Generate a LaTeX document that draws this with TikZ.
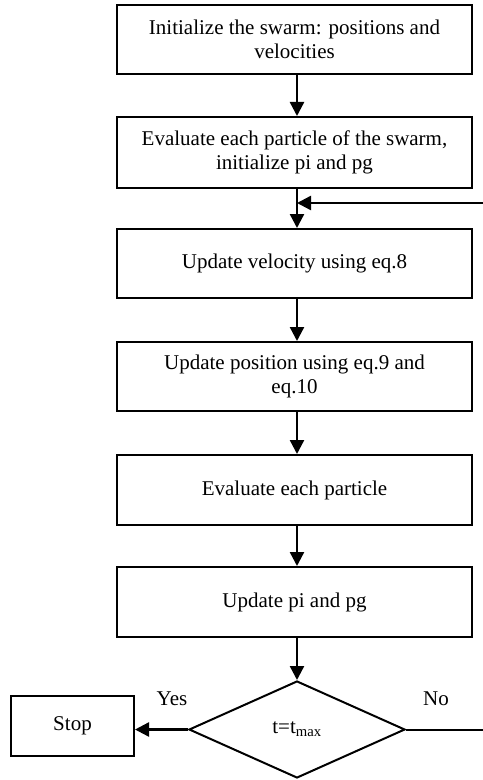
\documentclass[tikz,border=0pt]{standalone}
\usepackage{fontspec}
\setmainfont{Liberation Serif}
\usetikzlibrary{shapes.geometric,arrows.meta}
\begin{document}
\begin{tikzpicture}[x=1bp,y=-1bp,
  every node/.style={font=\fontsize{21bp}{24.5bp}\selectfont, inner sep=0pt},
  procbox/.style={draw, line width=2bp, minimum width=355bp, minimum height=69bp, align=center},
  decbox/.style={draw, diamond, line width=2bp, minimum width=216bp, minimum height=97bp},
  stopbox/.style={draw, line width=2bp, minimum width=123bp, minimum height=60bp},
  arr/.style={line width=2.4bp, -{Triangle[length=14bp,width=14bp]}},
  plainline/.style={line width=2bp}]
\useasboundingbox (0,0) rectangle (483,780);
\node[procbox] (b1) at (294.5,39.5) {Initialize the swarm: positions and\\velocities};
\node[procbox, minimum height=71bp] (b2) at (294.5,152.5) {Evaluate each particle of the swarm,\\initialize pi and pg};
\node[procbox] (b3) at (294.5,263.5) {Update velocity using eq.8};
\node[procbox] (b4) at (294.5,376.5) {Update position using eq.9 and\\eq.10};
\node[procbox, minimum height=70bp] (b5) at (294.5,490) {Evaluate each particle};
\node[procbox, minimum height=70bp] (b6) at (294.5,602) {Update pi and pg};
\node[decbox] (d) at (297,729.5) {t=t\textsubscript{max}};
\node[stopbox] (stop) at (72.5,726) {Stop};
\node (yes) at (172,699) {Yes};
\node (no) at (436,699) {No};
\coordinate (ax) at (297,0);
\coordinate (fbR) at (483,203);
\coordinate (fbL) at (297,203);
\coordinate (noR) at (483,729.5);
\draw[arr] (b1.south -| ax) -- (b2.north -| ax);
\draw[arr] (b2.south -| ax) -- (b3.north -| ax);
\draw[arr] (fbR) -- (fbL);
\draw[arr] (b3.south -| ax) -- (b4.north -| ax);
\draw[arr] (b4.south -| ax) -- (b5.north -| ax);
\draw[arr] (b5.south -| ax) -- (b6.north -| ax);
\draw[arr] (b6.south -| ax) -- (d.north);
\draw[arr] (d.west) -- (d.west -| stop.east);
\draw[plainline] (d.east) -- (noR);
\end{tikzpicture}
\end{document}
